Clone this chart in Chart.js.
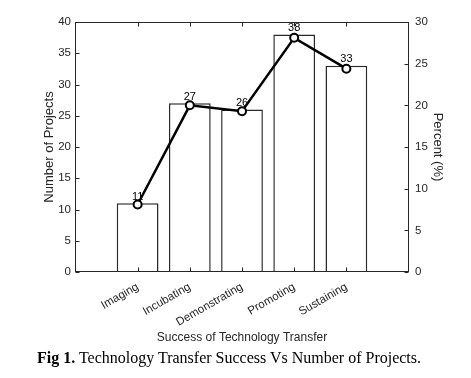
<!DOCTYPE html>
<html>
<head>
<meta charset="utf-8">
<script src="https://cdn.jsdelivr.net/npm/chart.js@4.4.0/dist/chart.umd.min.js"></script>
<style>
  html, body { margin: 0; padding: 0; background: #fff; }
  #wrap { position: relative; width: 471px; height: 378px; }
  #chart { position: absolute; left: 0; top: 0; }
  #caption {
    position: absolute; left: 37px; top: 349px;
    font-family: "Liberation Serif", "Times New Roman", serif;
    font-size: 16px; color: #000; white-space: nowrap;
  }
</style>
</head>
<body>
<div id="wrap">
  <canvas id="chart" width="471" height="378"></canvas>
  <div id="caption"><b>Fig 1.</b> Technology Transfer Success Vs Number of Projects.</div>
</div>
<script>
const categories = ["Imaging", "Incubating", "Demonstrating", "Promoting", "Sustaining"];
const projectCounts = [11, 27, 26, 38, 33];
const percentValues = [8.1, 20.0, 19.3, 28.1, 24.4];

const axisColor = "#262626";
const fontFamily = "'Liberation Sans', Arial, sans-serif";
const tickFont = { family: fontFamily, size: 11.5 };

// box around the plot with inward ticks, matlab style
const boxTicks = {
  id: "boxTicks",
  afterDraw(chart) {
    const { ctx, chartArea: a, scales } = chart;
    ctx.save();
    ctx.strokeStyle = axisColor;
    ctx.lineWidth = 1;
    const L = Math.round(a.left) + 0.5, R = Math.round(a.right) - 0.5;
    const T = Math.round(a.top) + 0.5, B = Math.round(a.bottom) - 0.5;
    ctx.strokeRect(L, T, R - L, B - T);
    ctx.beginPath();
    scales.y.ticks.forEach((t) => {
      const y = Math.round(scales.y.getPixelForValue(t.value)) + 0.5;
      ctx.moveTo(L, y); ctx.lineTo(L + 4, y);
    });
    scales.y1.ticks.forEach((t) => {
      const y = Math.round(scales.y1.getPixelForValue(t.value)) + 0.5;
      ctx.moveTo(R, y); ctx.lineTo(R - 4, y);
    });
    scales.x.ticks.forEach((t) => {
      const x = Math.round(scales.x.getPixelForValue(t.value)) + 0.5;
      ctx.moveTo(x, B); ctx.lineTo(x, B - 4);
      ctx.moveTo(x, T); ctx.lineTo(x, T + 4);
    });
    ctx.stroke();
    ctx.restore();
  },
  afterDatasetDraw(chart, args) {
    if (args.index !== 0) return;
    const { ctx } = chart;
    const meta = chart.getDatasetMeta(0);
    ctx.save();
    ctx.font = "11px " + fontFamily;
    ctx.fillStyle = "#000";
    ctx.textAlign = "center";
    ctx.textBaseline = "bottom";
    meta.data.forEach((bar, i) => {
      ctx.fillText(String(projectCounts[i]), bar.x, bar.y - 1);
    });
    ctx.restore();
  },
};

new Chart(document.getElementById("chart"), {
  data: {
    datasets: [
      {
        type: "bar",
        order: 2,
        data: projectCounts.map((v, i) => ({ x: i + 1, y: v })),
        yAxisID: "y",
        backgroundColor: "#ffffff",
        borderColor: "#2a2a2a",
        borderWidth: 1.5,
        barPercentage: 0.8,
        categoryPercentage: 1.0,
      },
      {
        type: "line",
        order: 1,
        data: percentValues.map((v, i) => ({ x: i + 1, y: v })),
        yAxisID: "y1",
        borderColor: "#000000",
        borderWidth: 2.5,
        pointRadius: 4,
        pointBorderWidth: 2,
        pointBackgroundColor: "#ffffff",
        pointBorderColor: "#000000",
        tension: 0,
      },
    ],
  },
  options: {
    responsive: false,
    animation: false,
    layout: { padding: { top: 22, left: 38, right: 22, bottom: 33 } },
    plugins: { legend: { display: false }, tooltip: { enabled: false } },
    scales: {
      x: {
        type: "linear",
        offset: false,
        min: -0.2,
        max: 6.2,
        afterBuildTicks: (s) => {
          s.ticks = categories.map((c, i) => ({ value: i + 1 }));
        },
        afterFit: (s) => { s.height = 73; },
        grid: { display: false, drawTicks: false },
        border: { display: false },
        ticks: {
          autoSkip: false,
          minRotation: 30,
          maxRotation: 30,
          padding: 8,
          color: axisColor,
          font: tickFont,
          callback: (v) => categories[v - 1] || "",
        },
        title: {
          display: true,
          text: "Success of Technology Transfer",
          color: axisColor,
          font: { family: fontFamily, size: 12 },
          padding: { top: 0, bottom: 0 },
        },
      },
      y: {
        position: "left",
        min: 0,
        max: 40,
        afterFit: (s) => { s.width = 37; },
        grid: { display: false, drawTicks: false },
        border: { display: false },
        ticks: { stepSize: 5, padding: 4, color: axisColor, font: tickFont },
        title: {
          display: true,
          text: "Number of Projects",
          color: axisColor,
          font: { family: fontFamily, size: 13 },
          padding: { top: 4, bottom: 4 },
        },
      },
      y1: {
        position: "right",
        min: 0,
        max: 30,
        afterFit: (s) => { s.width = 40; },
        grid: { display: false, drawTicks: false },
        border: { display: false },
        ticks: { stepSize: 5, padding: 6, color: axisColor, font: tickFont },
        title: {
          display: true,
          text: "Percent (%)",
          color: axisColor,
          font: { family: fontFamily, size: 13 },
          padding: { top: 4, bottom: 4 },
        },
      },
    },
  },
  plugins: [boxTicks],
});
</script>
</body>
</html>
